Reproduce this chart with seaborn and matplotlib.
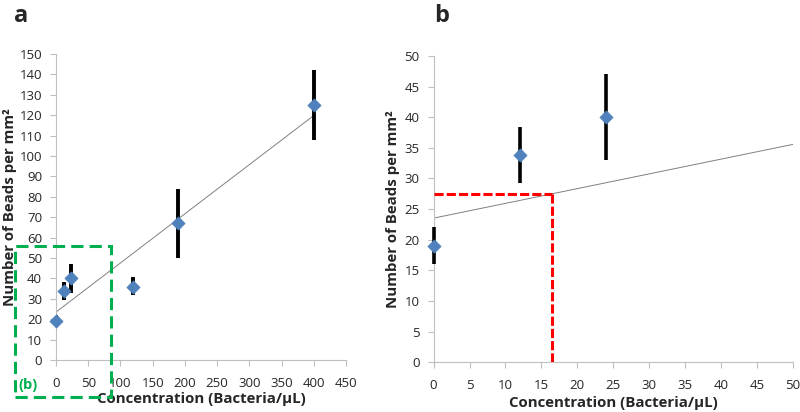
import numpy as np
import pandas as pd
import matplotlib.pyplot as plt
from matplotlib.patches import Rectangle
import seaborn as sns

# measured bead densities vs bacteria concentration
conc = [0, 12, 24, 120, 190, 400]
beads = [19, 33.8, 40, 36, 67, 125]
err_lo = [3, 4.6, 7, 4, 17, 17]
err_hi = [3, 4.6, 7, 4.5, 17, 17]
detect_level = 27.5  # threshold in beads per mm^2

xticks_a = list(range(0, 451, 50))
yticks_a = list(range(0, 151, 10))
xticks_b = list(range(0, 51, 5))
yticks_b = list(range(0, 51, 5))

df = pd.DataFrame({"conc": conc, "beads": beads})

# linear trend fitted to all points
slope, intercept = np.polyfit(conc, beads, 1)
lod_x = (detect_level - intercept) / slope

sns.set_style("white")
plt.rcParams['font.family'] = ['Open Sans', 'DejaVu Sans']

fig = plt.figure(figsize=(8, 4.12), dpi=100)
ax_a = fig.add_axes([0.07, 0.126, 0.3625, 0.743])
ax_b = fig.add_axes([0.542, 0.121, 0.449, 0.743])

blue = "#4F81BD"
gray = "#BFBFBF"


def style_axes(ax, xticks, yticks, xlim, ylim):
    ax.set_xlim(*xlim)
    ax.set_ylim(*ylim)
    ax.set_xticks(xticks)
    ax.set_yticks(yticks)
    for s in ["top", "right"]:
        ax.spines[s].set_visible(False)
    for s in ["left", "bottom"]:
        ax.spines[s].set_color(gray)
        ax.spines[s].set_linewidth(0.8)
    ax.tick_params(axis="both", direction="out", length=4, width=0.8,
                   color=gray, labelsize=9.5, labelcolor="#262626",
                   left=True, bottom=True)
    ax.tick_params(axis="x", pad=8)
    ax.tick_params(axis="y", pad=6)
    ax.set_xlabel("Concentration (Bacteria/µL)", fontsize=10.8, fontweight="bold")
    ax.set_ylabel("Number of Beads per mm²", fontsize=10.8, fontweight="bold")


# panel a
line_x = np.array([0, 400])
sns.lineplot(x=line_x, y=intercept + slope * line_x, ax=ax_a, color="#808080",
             lw=0.7, zorder=2)
ax_a.errorbar(conc, beads, yerr=[err_lo, err_hi], fmt="none", ecolor="black",
              elinewidth=2.8, capsize=0, zorder=3)
sns.scatterplot(data=df, x="conc", y="beads", ax=ax_a, marker="D", s=45,
                color=blue, edgecolor=blue, zorder=4, clip_on=False)
style_axes(ax_a, xticks_a, yticks_a, (0, 450), (0, 150))
ax_a.xaxis.set_label_coords(0.5, -0.105)
ax_a.yaxis.set_label_coords(-0.134, 0.5)

# panel b (zoom of low concentrations)
low = df[df["conc"] <= 50]
line_xb = np.array([0, 50])
sns.lineplot(x=line_xb, y=intercept + slope * line_xb, ax=ax_b, color="#808080",
             lw=0.7, zorder=2)
ax_b.errorbar(low["conc"], low["beads"],
              yerr=[err_lo[:len(low)], err_hi[:len(low)]], fmt="none",
              ecolor="black", elinewidth=2.6, capsize=0, zorder=3, clip_on=False)
sns.scatterplot(data=low, x="conc", y="beads", ax=ax_b, marker="D", s=45,
                color=blue, edgecolor=blue, zorder=4, clip_on=False)
ax_b.plot([0, lod_x], [detect_level, detect_level], color="#FF0000", lw=2.2,
          ls=(0, (3, 1)), zorder=5)
ax_b.plot([lod_x, lod_x], [0, detect_level], color="#FF0000", lw=2.2,
          ls=(0, (3, 1)), zorder=5)
style_axes(ax_b, xticks_b, yticks_b, (0, 50), (0, 50))
ax_b.xaxis.set_label_coords(0.5, -0.111)
ax_b.yaxis.set_label_coords(-0.094, 0.5)

# green box showing the region zoomed in panel b
fig.patches.append(Rectangle((0.019, 0.036), 0.12, 0.367, transform=fig.transFigure,
                             fill=False, edgecolor="#00B050", lw=2.2,
                             ls=(0, (4, 2)), zorder=10))
fig.text(0.035, 0.066, "(b)", color="#00B050", fontsize=10.5, fontweight="bold",
         ha="center", va="center")

fig.text(0.018, 0.962, "a", fontsize=17, fontweight="bold", ha="left", va="center")
fig.text(0.543, 0.962, "b", fontsize=17, fontweight="bold", ha="left", va="center")

fig.savefig("out.png", dpi=100)
